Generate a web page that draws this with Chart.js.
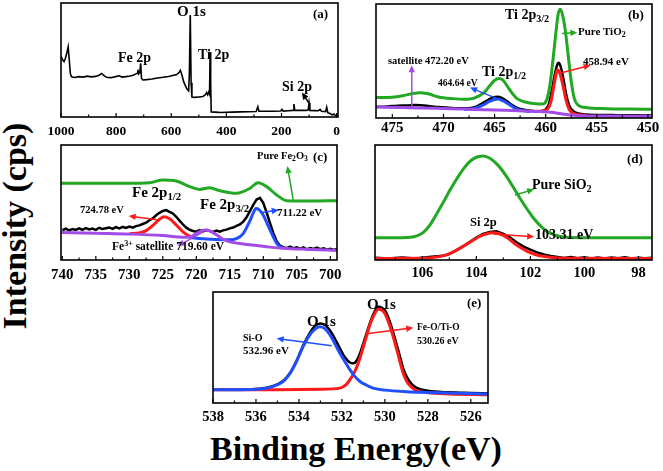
<!DOCTYPE html>
<html>
<head>
<meta charset="utf-8">
<script src="https://cdn.jsdelivr.net/npm/chart.js@4.4.1/dist/chart.umd.min.js"></script>
<style>
  body { margin: 0; background: #fff; width: 663px; height: 471px; position: relative; overflow: hidden;
         font-family: "Liberation Serif", "Times New Roman", serif; font-weight: bold; }
  canvas { position: absolute; }
  .lbl { position: absolute; white-space: nowrap; line-height: 1; color: #000; }
  sub { font-size: 0.72em; vertical-align: -0.28em; line-height: 0; }
  sup { font-size: 0.7em; vertical-align: 0.45em; line-height: 0; }
</style>
</head>
<body>
<script>
// ---- data (binding energy in eV, intensity in arbitrary units 0-100) ----

// (a) survey
const A_TICKS = [1000, 800, 600, 400, 200, 0];
const SURVEY_E = [1000, 995, 989, 984, 978, 974, 970, 966, 962, 950, 935, 920, 905, 890, 875, 862, 852, 845, 835, 820, 805, 790, 778, 765, 750, 738, 728, 724, 721, 718, 714, 711, 708, 703, 690, 670, 650, 630, 610, 595, 580, 572, 567, 562, 555, 548, 543, 537, 534, 531, 528, 525, 515, 500, 485, 476, 472, 468, 464, 461, 459, 457, 455, 440, 420, 400, 380, 350, 320, 292, 286, 282, 260, 230, 203, 198, 194, 175, 158, 155, 152, 130, 110, 103, 100, 97, 80, 66, 60, 55, 40, 36, 32, 24, 16, 10, 5, 0, -5];
const SURVEY_I = [53.5, 50.5, 48.5, 51.5, 57, 61.5, 50, 38, 35.2, 34.6, 35.4, 35.0, 35.8, 35.2, 35.6, 36.6, 38.2, 36.4, 34.8, 34.5, 35.2, 36.2, 35.0, 35.4, 36.0, 36.6, 37.8, 38.3, 41.5, 37.8, 39.0, 47.0, 34.0, 32.5, 32.8, 33.4, 34.2, 34.8, 35.6, 36.4, 37.2, 39.0, 41.0, 37.5, 31.0, 27.0, 24.5, 23.0, 40, 89.5, 30, 17.5, 17.2, 17.6, 18.0, 19.5, 21.5, 19.5, 22.0, 20.0, 57, 30, 4.5, 4.3, 4.0, 4.2, 4.3, 4.5, 4.6, 4.8, 9.0, 5.0, 5.0, 5.1, 5.3, 6.7, 5.2, 5.5, 5.8, 11.4, 6.0, 5.8, 5.8, 6.2, 12.3, 5.8, 5.6, 5.5, 6.6, 5.0, 4.7, 8.5, 3.8, 3.0, 1.8, 2.6, 1.5, 1.2, 1.0];

// (b) Ti 2p
const B_TICKS = [475, 470, 465, 460, 455, 450];
const B_BLACK_E = [476.6, 475.5, 474.5, 473.5, 472.8, 472.2, 471.5, 470.5, 469.5, 468.5, 467.5, 466.8, 466.2, 465.6, 465.1, 464.7, 464.3, 463.8, 463.3, 462.8, 462, 461.2, 460.5, 460, 459.7, 459.4, 459.1, 458.9, 458.75, 458.55, 458.3, 458, 457.7, 457.3, 456.8, 456, 454.5, 453, 451.5, 449.6];
const B_BLACK_I = [9.7, 10.1, 10.8, 11.0, 11.4, 11.2, 10.6, 9.6, 9.0, 8.5, 8.6, 10.0, 12.8, 16.0, 18.2, 18.6, 17.6, 14.8, 11.5, 8.8, 7.0, 6.2, 6.0, 7.6, 12.0, 24.0, 38.5, 46.0, 48.4, 45.5, 36.0, 21.0, 11.0, 6.0, 4.0, 3.0, 2.6, 2.5, 2.4, 2.3];
const B_GREEN_E = [476.6, 475, 474, 473, 472.3, 471.5, 470.5, 469, 468, 467, 466, 465.5, 465, 464.6, 464.2, 463.8, 463.3, 462.8, 462, 461, 460.3, 459.9, 459.6, 459.3, 459, 458.8, 458.6, 458.4, 458.1, 457.8, 457.5, 457.2, 456.8, 456, 454, 452, 449.6];
const B_GREEN_I = [18, 18.3, 19.5, 21.5, 22.2, 21.2, 18.5, 17, 16.5, 17.5, 22.5, 28, 33, 34.7, 33.5, 28.5, 22, 17, 14, 12.5, 12.3, 16, 28, 50, 75, 90, 95.5, 92, 78, 55, 32, 17, 11, 9, 8.2, 7.9, 7.7];
const B_RED_E = [461, 460.3, 459.8, 459.5, 459.2, 459, 458.9, 458.8, 458.6, 458.3, 458, 457.7, 457.3, 456.8, 456];
const B_RED_I = [5.8, 6.2, 8, 14, 28, 38, 41.5, 42, 39, 28, 15.5, 7.5, 4, 2.8, 2.4];
const B_BLUE_E = [468, 467, 466.2, 465.5, 465, 464.7, 464.2, 463.5, 463, 462.3, 461.5];
const B_BLUE_I = [7.6, 8.3, 11, 14.5, 16.2, 16.6, 15.2, 11.5, 8.5, 6.5, 5.8];
const B_PURPLE_E = [476.6, 474, 472, 470, 468, 466, 464, 462, 460.5, 459.5, 458.5, 457.5, 456.5, 455, 449.6];
const B_PURPLE_I = [9.7, 9.2, 8.8, 8.3, 7.8, 7.2, 6.8, 6.2, 5.6, 5, 3.8, 2.6, 1.9, 1.7, 1.6];

// (c) Fe 2p
const C_TICKS = [740, 735, 730, 725, 720, 715, 710, 705, 700];
const C_BLACK_E = [740, 739.5, 739, 738.5, 738, 737.5, 737, 736.5, 736, 735.5, 735, 734.5, 734, 733.5, 733, 732.5, 732, 731.5, 731, 730.5, 730, 729.5, 729, 728.5, 728, 727.5, 727, 726.5, 726, 725.5, 725, 724.5, 724, 723.5, 723, 722.5, 722, 721.5, 721, 720.5, 720, 719.5, 719, 718.5, 718, 717.5, 717, 716.5, 716, 715.5, 715, 714.5, 714, 713.5, 713, 712.5, 712, 711.5, 711, 710.5, 710, 709.5, 709, 708.5, 708, 707.5, 707, 706.5, 706, 705.5, 705, 704.5, 704, 703.5, 703, 702.5, 702, 701.5, 701, 700.5, 700, 699.5, 699];
const C_BLACK_I = [26.0, 27.2, 25.8, 26.9, 26.1, 27.5, 26.3, 27.8, 26.6, 27.4, 26.2, 28.0, 26.9, 27.6, 28.3, 27.1, 28.6, 27.4, 28.9, 27.8, 29.0, 28.2, 29.5, 30.1, 31.3, 32.4, 34.6, 36.2, 38.9, 41.0, 42.6, 43.4, 41.8, 40.5, 37.6, 34.2, 30.9, 28.1, 26.3, 25.2, 24.6, 25.9, 24.8, 26.0, 25.1, 24.4, 25.6, 24.7, 25.8, 26.4, 27.5, 28.2, 29.6, 31.0, 33.4, 37.2, 42.5, 48.0, 52.6, 54.0, 49.5, 41.2, 32.0, 23.4, 16.1, 12.4, 11.2, 10.3, 11.6, 10.2, 11.1, 9.8, 10.9, 9.3, 10.4, 9.6, 10.7, 9.4, 10.2, 8.9, 9.8, 8.7, 9.5];
const C_GREEN_E = [740.2, 735, 730, 727, 725, 723, 721, 719.5, 718, 716.5, 714, 712, 710.8, 709.5, 708, 706.5, 703, 699];
const C_GREEN_I = [66.7, 66.7, 66.7, 67.2, 69.6, 68.7, 63.8, 61.4, 62.9, 60.3, 58, 62.3, 67.2, 63.8, 56.5, 51.6, 51.3, 51.6];
const C_RED_E = [730, 728.5, 727.5, 726.5, 725.5, 724.8, 724, 723, 722, 721, 720.5];
const C_RED_I = [22.9, 23.5, 25.5, 30, 35.5, 37.6, 35.8, 30.5, 24.5, 20.8, 19.6];
const C_BLUE_E = [721, 719, 717, 715, 714, 713, 712, 711.5, 711.1, 710.7, 710, 709.3, 708.5, 708, 707.5, 707];
const C_BLUE_I = [19.5, 18.5, 17.8, 17.6, 18.6, 23, 34, 41, 44.8, 44, 39, 30, 20, 14.5, 11.5, 10.5];
const C_PURPLE_E = [740.2, 735, 730, 725, 722, 721, 720, 719, 718.5, 718, 717, 716, 715, 713, 711, 709, 707, 703, 699];
const C_PURPLE_I = [24, 23.2, 22.5, 21.2, 19.8, 20, 23, 25.8, 26, 25.3, 22, 18, 15.8, 14, 12.6, 11.2, 10.2, 9.2, 8.3];

// (d) Si 2p
const D_TICKS = [106, 104, 102, 100, 98];
const D_GREEN_E = [107.75, 107, 106.45, 106.2, 105.96, 105.7, 105.47, 105.2, 104.97, 104.7, 104.47, 104.2, 103.95, 103.75, 103.5, 103.2, 102.88, 102.6, 102.38, 102.1, 101.89, 101.6, 101.4, 101.1, 100.9, 100.5, 99.5, 97.5];
const D_GREEN_I = [19.3, 19.4, 19.8, 21, 24, 31, 40, 51, 61, 71.5, 79.5, 86.5, 89.8, 90.5, 88.5, 82.5, 72.5, 62, 53.5, 43.5, 36.5, 29, 25, 21.8, 20.5, 19.6, 19.4, 19.4];
const D_RED_E = [107.75, 106, 105.84, 105.5, 105.1, 104.85, 104.6, 104.35, 104.1, 103.9, 103.74, 103.5, 103.35, 103.2, 103, 102.8, 102.6, 102.35, 102.1, 101.85, 101.6, 101.2, 100.7, 97.5];
const D_RED_I = [1.4, 1.5, 1.7, 2.5, 4.5, 7, 10.2, 13.8, 17.4, 20.2, 21.8, 23.5, 23.8, 23.2, 21.4, 18.4, 14.6, 10.6, 7.2, 5, 3.5, 2.2, 1.6, 1.4];
const D_BLACK_E = [107.75, 107.25, 106.75, 106.25, 105.75, 105.25, 105, 104.75, 104.5, 104.25, 104, 103.75, 103.5, 103.25, 103, 102.75, 102.5, 102.25, 102, 101.75, 101.5, 101.25, 101, 100.75, 100.5, 100.25, 100, 99.75, 99.5, 99.25, 99, 98.75, 98.5, 98.25, 98, 97.75, 97.5];
const D_BLACK_I = [2.0, 1.2, 2.2, 1.4, 2.6, 3.6, 5.2, 8.4, 11.8, 15.6, 19.4, 22.6, 24.4, 24.9, 22.8, 19.6, 15.2, 11.6, 9.0, 6.6, 4.8, 3.4, 2.6, 1.8, 2.5, 1.5, 2.3, 1.4, 2.2, 1.3, 2.1, 1.5, 2.4, 1.3, 2.0, 1.6, 1.9];

// (e) O 1s
const E_TICKS = [538, 536, 534, 532, 530, 528, 526];
const E_BLUE_E = [538, 537, 536, 535.5, 535, 534.7, 534.4, 534.1, 533.8, 533.5, 533.25, 533.03, 532.8, 532.56, 532.3, 532.1, 531.85, 531.63, 531.4, 531.16, 530.85, 530.54, 530, 529, 528, 527, 525.2];
const E_BLUE_I = [11.9, 11.9, 12.3, 13.4, 16.5, 20, 27, 38, 51, 61.2, 66.5, 68.6, 67, 61.5, 52.5, 45, 37, 30, 24, 19.4, 16, 13.4, 11.6, 10.2, 9.5, 8.9, 8.1];
const E_RED_E = [538, 535, 533, 532.1, 531.8, 531.63, 531.45, 531.3, 531.15, 531, 530.85, 530.7, 530.5, 530.3, 530.15, 530, 529.85, 529.68, 529.5, 529.3, 529.15, 528.98, 528.75, 528.5, 528, 527, 525.2];
const E_RED_I = [11.9, 12.0, 12.3, 13.4, 16.5, 20.9, 26.5, 32.8, 41, 50.7, 60.5, 70.2, 79.5, 84.5, 83.8, 80.6, 74, 64.2, 52, 37.3, 27, 19.4, 14, 11, 9.2, 8.2, 7.4];
const E_BLACK_E = [538, 537, 536, 535.5, 535, 534.7, 534.4, 534.1, 533.8, 533.5, 533.25, 533, 532.8, 532.56, 532.3, 532.1, 531.85, 531.63, 531.45, 531.3, 531.15, 531, 530.85, 530.7, 530.5, 530.3, 530.15, 530, 529.85, 529.68, 529.5, 529.3, 529.15, 528.98, 528.75, 528.5, 528, 527.5, 527, 526, 525.2];
const E_BLACK_I = [12.2, 12.0, 12.6, 13.8, 16.8, 20.5, 27.5, 38.5, 52, 63, 69.5, 71.7, 70.5, 65.5, 57, 49.5, 41, 36.5, 35.8, 38.5, 45, 54, 63, 72, 81.5, 86.6, 86, 83.5, 77.5, 68, 56, 42, 31.5, 23.5, 17, 13.5, 11, 10.2, 9.6, 9, 8.6];

// ---- look ----
const GREEN = "#22a822", RED = "#ff1a1a", BLUE = "#1f4fff", PURPLE = "#a24be6", BLACK = "#000";

// frame of each panel on the page (px) and its tick label look
const LAYOUT = {
  a: { l: 61, r: 338, t: 3, b: 117, font: 13.5, pad: 6 },
  b: { l: 376, r: 652, t: 4, b: 118, font: 15, pad: 1 },
  c: { l: 61, r: 337, t: 145, b: 260, font: 15, pad: 6 },
  d: { l: 375, r: 652, t: 145, b: 260, font: 14.5, pad: 4.5 },
  e: { l: 213, r: 488, t: 292, b: 403, font: 14.5, pad: 6 }
};

function series(xs, ys) {
  return xs.map((x, i) => ({ x: x, y: ys[i] }));
}

function line(xs, ys, color, width, smooth) {
  return {
    data: series(xs, ys),
    borderColor: color,
    borderWidth: width,
    pointRadius: 0,
    fill: false,
    tension: 0,
    cubicInterpolationMode: smooth ? "monotone" : "default"
  };
}

// box around the plot, inward ticks, and arrows (arrow ends given in data units)
function framePlugin(step, minor, arrows) {
  return {
    id: "frame",
    afterDatasetsDraw(chart) {
      const ctx = chart.ctx, a = chart.chartArea;
      const x = chart.scales.x, y = chart.scales.y;
      ctx.save();
      arrows.forEach(ar => {
        const x0 = x.getPixelForValue(ar.from[0]), y0 = y.getPixelForValue(ar.from[1]);
        const x1 = x.getPixelForValue(ar.to[0]), y1 = y.getPixelForValue(ar.to[1]);
        const ang = Math.atan2(y1 - y0, x1 - x0), c = Math.cos(ang), s = Math.sin(ang);
        ctx.strokeStyle = ar.color;
        ctx.fillStyle = ar.color;
        ctx.lineWidth = 1.5;
        ctx.beginPath();
        ctx.moveTo(x0, y0);
        ctx.lineTo(x1 - 4 * c, y1 - 4 * s);
        ctx.stroke();
        ctx.beginPath();
        ctx.moveTo(x1, y1);
        ctx.lineTo(x1 - 7 * c + 3.2 * s, y1 - 7 * s - 3.2 * c);
        ctx.lineTo(x1 - 7 * c - 3.2 * s, y1 - 7 * s + 3.2 * c);
        ctx.closePath();
        ctx.fill();
      });
      ctx.strokeStyle = "#000";
      ctx.lineWidth = 1.6;
      ctx.strokeRect(a.left, a.top, a.right - a.left, a.bottom - a.top);
      ctx.lineWidth = 1.2;
      for (let k = Math.ceil(x.min / minor); k * minor <= x.max; k++) {
        const v = k * minor;
        const isMajor = Math.abs(v / step - Math.round(v / step)) < 1e-6;
        const px = x.getPixelForValue(v);
        ctx.beginPath();
        ctx.moveTo(px, a.bottom);
        ctx.lineTo(px, a.bottom - (isMajor ? 4 : 2.5));
        ctx.stroke();
      }
      ctx.restore();
    }
  };
}

function makePanel(key, xMin, xMax, ticks, step, minor, datasets, arrows) {
  const g = LAYOUT[key];
  const padX = 25, padTop = 2, axisH = 26;
  const canvas = document.createElement("canvas");
  canvas.width = g.r - g.l + 2 * padX;
  canvas.height = g.b - g.t + padTop + axisH;
  canvas.style.left = (g.l - padX) + "px";
  canvas.style.top = (g.t - padTop) + "px";
  document.body.appendChild(canvas);

  new Chart(canvas, {
    type: "line",
    data: { datasets: datasets },
    options: {
      responsive: false,
      animation: false,
      layout: { padding: { left: padX, right: padX, top: padTop, bottom: 0 } },
      plugins: { legend: { display: false }, tooltip: { enabled: false } },
      scales: {
        x: {
          type: "linear",
          reverse: true,
          min: xMin,
          max: xMax,
          grid: { display: false, drawTicks: false },
          border: { display: false },
          afterBuildTicks: s => { s.ticks = ticks.map(v => ({ value: v })); },
          ticks: {
            autoSkip: false,
            maxRotation: 0,
            padding: g.pad,
            color: "#000",
            font: { family: "Liberation Serif", weight: "bold", size: g.font },
            callback: v => String(v)
          },
          afterFit: s => { s.height = axisH; s.paddingLeft = 0; s.paddingRight = 0; }
        },
        y: { display: false, min: 0, max: 100 }
      }
    },
    plugins: [framePlugin(step, minor, arrows)]
  });
}

// (a)
makePanel("a", -5, 1000, A_TICKS, 200, 100,
  [line(SURVEY_E, SURVEY_I, BLACK, 1.6, false)],
  [{ from: [101, 12.5], to: [126, 21.5], color: BLACK }]);

// (b)
makePanel("b", 449.6, 476.6, B_TICKS, 5, 2.5,
  [
    line(B_PURPLE_E, B_PURPLE_I, PURPLE, 3, true),
    line(B_GREEN_E, B_GREEN_I, GREEN, 3, true),
    line(B_RED_E, B_RED_I, RED, 3, true),
    line(B_BLUE_E, B_BLUE_I, BLUE, 3, true),
    line(B_BLACK_E, B_BLACK_I, BLACK, 2.5, true)
  ],
  [
    { from: [458.4, 74.2], to: [456.9, 75.1], color: GREEN },
    { from: [458.73, 39], to: [455.6, 46.3], color: RED },
    { from: [464.76, 17], to: [467.4, 26.7], color: BLUE },
    { from: [473.1, 9.7], to: [473.1, 46.3], color: PURPLE }
  ]);

// (c)
makePanel("c", 699, 740.2, C_TICKS, 5, 2.5,
  [
    line(C_GREEN_E, C_GREEN_I, GREEN, 3, true),
    line(C_PURPLE_E, C_PURPLE_I, PURPLE, 3, true),
    line(C_BLUE_E, C_BLUE_I, BLUE, 3, true),
    line(C_RED_E, C_RED_I, RED, 3, true),
    line(C_BLACK_E, C_BLACK_I, BLACK, 2.5, false)
  ],
  [
    { from: [705.5, 50.7], to: [706.4, 81.7], color: GREEN },
    { from: [725.6, 34.8], to: [730.1, 38.3], color: RED },
    { from: [710.4, 41.1], to: [707.7, 43.5], color: BLUE },
    { from: [718.9, 24.6], to: [722.8, 12.2], color: PURPLE }
  ]);

// (d)
makePanel("d", 97.5, 107.75, D_TICKS, 2, 1,
  [
    line(D_GREEN_E, D_GREEN_I, GREEN, 3, true),
    line(D_RED_E, D_RED_I, RED, 3, true),
    line(D_BLACK_E, D_BLACK_I, BLACK, 2.5, false)
  ],
  [
    { from: [102.57, 56.5], to: [101.86, 61.5], color: GREEN },
    { from: [103.37, 22.6], to: [101.86, 20.3], color: RED }
  ]);

// (e)
makePanel("e", 525.2, 538, E_TICKS, 2, 1,
  [
    line(E_BLUE_E, E_BLUE_I, BLUE, 3, true),
    line(E_RED_E, E_RED_I, RED, 3, true),
    line(E_BLACK_E, E_BLACK_I, BLACK, 2.5, true)
  ],
  [
    { from: [532.48, 51.6], to: [535.04, 58.2], color: BLUE },
    { from: [530.77, 62.7], to: [528.68, 67.7], color: RED }
  ]);

// ---- annotation text: [left, top, size, html] ----
const NOTES = [
  [177, 4, 15, "O 1s"], [118, 50.5, 14, "Fe 2p"], [198, 47.5, 14, "Ti 2p"], [282, 79.5, 14, "Si 2p"], [313, 7, 13, "(a)"],
  [505, 7.5, 14, "Ti 2p<sub>3/2</sub>"], [578, 26, 11, "Pure TiO<sub>2</sub>"], [583, 56, 11, "458.94 eV"],
  [388, 56, 10.5, "satellite 472.20 eV"], [482, 64.5, 14, "Ti 2p<sub>1/2</sub>"], [438, 78.5, 9.5, "464.64 eV"], [628, 8, 13, "(b)"],
  [257, 151, 10.5, "Pure Fe<sub>2</sub>O<sub>3</sub>"], [313, 150, 13, "(c)"], [132, 185, 15, "Fe 2p<sub>1/2</sub>"],
  [200, 197, 15, "Fe 2p<sub>3/2</sub>"], [80, 205, 10.5, "724.78 eV"], [277, 207, 11, "711.22 eV"],
  [112, 241, 11.5, "Fe<sup>3+</sup> satellite 719.60 eV"],
  [627, 152, 13, "(d)"], [532, 177.5, 14, "Pure SiO<sub>2</sub>"], [470, 215.5, 12.5, "Si 2p"], [535, 227.5, 14, "103.31 eV"],
  [467, 296, 13, "(e)"], [367, 297, 15, "O 1s"], [307, 314, 15, "O 1s"], [243, 333, 10, "Si-O"], [243, 345, 11, "532.96 eV"],
  [417, 323, 9.5, "Fe-O/Ti-O"], [417, 336, 10, "530.26 eV"]
];
NOTES.forEach(n => {
  const d = document.createElement("div");
  d.className = "lbl";
  d.style.left = n[0] + "px";
  d.style.top = n[1] + "px";
  d.style.fontSize = n[2] + "px";
  d.innerHTML = n[3];
  document.body.appendChild(d);
});

// axis titles
const xTitle = document.createElement("div");
xTitle.className = "lbl";
xTitle.style.cssText = "left:210px;top:432px;font-size:34px";
xTitle.textContent = "Binding Energy(eV)";
document.body.appendChild(xTitle);

const yTitle = document.createElement("div");
yTitle.className = "lbl";
yTitle.style.fontSize = "34px";
yTitle.textContent = "Intensity (cps)";
document.body.appendChild(yTitle);
const yw = yTitle.offsetWidth, yh = yTitle.offsetHeight;
yTitle.style.left = (15 - yw / 2) + "px";
yTitle.style.top = (226 - yh / 2) + "px";
yTitle.style.transform = "rotate(-90deg)";
</script>
</body>
</html>
